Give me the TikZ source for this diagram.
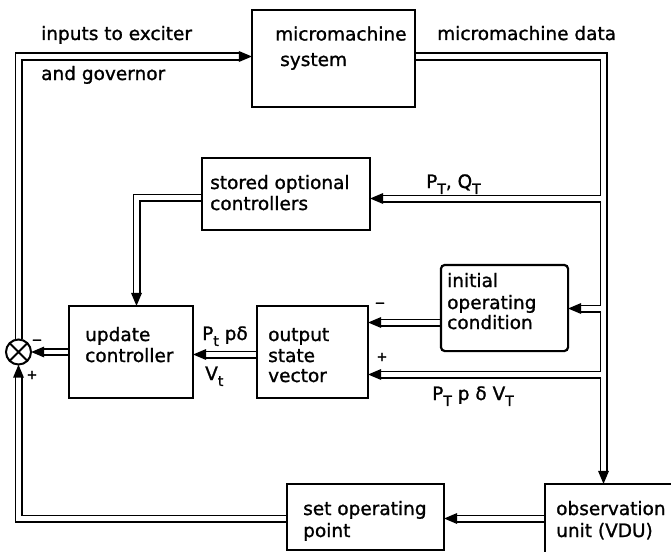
\documentclass[tikz,border=0pt]{standalone}
\usepackage{fontspec}
\setmainfont[FakeBold=1.2]{DejaVu Sans}
\usetikzlibrary{calc}
\newcommand\sbx[1]{\raisebox{-0.32em}{\fontsize{14}{14}\selectfont #1}}
\newcommand\ahR[1]{\fill #1 -- ++(-13,-5.5) -- ++(0,11) -- cycle;}
\newcommand\ahL[1]{\fill #1 -- ++(13,-5.5) -- ++(0,11) -- cycle;}
\newcommand\ahD[1]{\fill #1 -- ++(-5.5,-13) -- ++(11,0) -- cycle;}
\newcommand\ahU[1]{\fill #1 -- ++(-5.5,13) -- ++(11,0) -- cycle;}
\begin{document}
\begin{tikzpicture}[x=1pt,y=-1pt,
  box/.style={draw, line width=2.2pt, inner sep=0pt, rectangle},
  lbl/.style={inner sep=0pt, anchor=base west, font=\fontsize{18.5}{20}\selectfont},
  sign/.style={inner sep=0pt, font=\fontsize{13}{13}\selectfont},
  pipe/.style={draw, line width=1.9pt, double=white, double distance=4.2pt, line join=miter, line cap=butt, shorten >=12pt}]
\useasboundingbox (0,0) rectangle (671,551);

% coordinates of the pipe routes
\coordinate (c1) at (18.5,56.5);
\coordinate (c2) at (603.5,56.5);
\coordinate (b1) at (601.4,198.5);
\coordinate (b2) at (601.4,308.5);
\coordinate (b3) at (601.4,374.5);
\coordinate (c4) at (0,322.5);
\coordinate (c5) at (136.5,197.5);
\coordinate (c6) at (0,354.5);
\coordinate (c8) at (0,518.5);
\coordinate (c9) at (18.5,518.5);

% boxes
\node[box, draw=none, minimum width=161pt, minimum height=95pt] (mm) at (333.5,58.5) {};
\node[box, draw=none, minimum width=166pt, minimum height=70pt] (stored) at (286,194) {};
\node[box, draw=none, minimum width=122pt, minimum height=90pt] (upd) at (131,352) {};
\node[box, draw=none, minimum width=109pt, minimum height=90pt] (osv) at (312.5,352) {};
\node[box, draw=none, minimum width=125pt, minimum height=84pt] (init) at (504.5,308) {};
\node[box, draw=none, minimum width=155pt, minimum height=64pt] (setop) at (365.5,517) {};
\node[box, draw=none, minimum width=154pt, minimum height=75pt] (obs) at (623,522.5) {};
\node[circle, inner sep=0pt, minimum size=25pt] (sj) at (18.5,352) {};

% pipes (main runs first, branches after)
\draw[pipe] (sj.north) -- (c1) -- (mm.west |- c1);
\draw[pipe] (mm.east |- c2) -- (c2) -- (c2 |- obs.north);
\draw[pipe] (b1) -- (stored.east |- b1);
\draw[pipe] (b2) -- (init.east |- b2);
\draw[pipe] (b3) -- (osv.east |- b3);
\draw[pipe] (init.west |- c4) -- (osv.east |- c4);
\draw[pipe] (stored.west |- c5) -- (c5) -- (c5 |- upd.north);
\draw[pipe] (osv.west |- c6) -- (upd.east |- c6);
\draw[pipe] (upd.west |- sj.east) -- (sj.east);
\draw[pipe] (obs.west |- c8) -- (setop.east |- c8);
\draw[pipe] (setop.west |- c9) -- (c9) -- (sj.south);

% boxes drawn over pipe ends
\draw[line width=2.2pt] (mm.north west) rectangle (mm.south east);
\draw[line width=2.2pt] (stored.north west) rectangle (stored.south east);
\draw[line width=2.2pt] (upd.north west) rectangle (upd.south east);
\draw[line width=2.2pt] (osv.north west) rectangle (osv.south east);
\draw[line width=2.2pt, rounded corners=4pt] (init.north west) rectangle (init.south east);
\draw[line width=2.2pt] (setop.north west) rectangle (setop.south east);
\draw[line width=2.2pt] (obs.north west) rectangle (obs.south east);
\draw[line width=2pt, fill=white] (sj) circle (12.5pt);
\draw[line width=2pt] (sj.north west) -- (sj.south east) (sj.north east) -- (sj.south west);

% arrow heads
\ahR{(mm.west |- c1)}
\ahD{(c2 |- obs.north)}
\ahL{(stored.east |- b1)}
\ahL{(init.east |- b2)}
\ahL{(osv.east |- b3)}
\ahL{(osv.east |- c4)}
\ahD{(c5 |- upd.north)}
\ahL{(upd.east |- c6)}
\ahL{(sj.east)}
\ahL{(setop.east |- c8)}
\ahU{(sj.south)}

% texts
\node[lbl] (ie1) at (41,40) {inputs to exciter};
\node[lbl] (ie2) at (41,80) {and governor};
\node[lbl] (mm1) at (275,40.5) {micromachine};
\node[lbl] (mm2) at (280,66) {system};
\node[lbl] (md) at (437,40) {micromachine data};
\node[lbl] (pq) at (426,188) {P\sbx{T}, Q\sbx{T}};
\node[lbl] (st1) at (210,189) {stored optional};
\node[lbl] (st2) at (210,210) {controllers};
\node[lbl] (up1) at (85,341) {update};
\node[lbl] (up2) at (85,362) {controller};
\node[lbl] (os1) at (268,341) {output};
\node[lbl] (os2) at (268,362) {state};
\node[lbl] (os3) at (268,382) {vector};
\node[lbl] (pt) at (202,340) {P\sbx{t} pδ};
\node[lbl] (vt) at (205,380) {V\sbx{t}};
\node[lbl] (in1) at (447,287) {initial};
\node[lbl] (in2) at (447,309) {operating};
\node[lbl] (in3) at (447,329) {condition};
\node[lbl] (pp) at (432,400) {P\sbx{T} p δ V\sbx{T}};
\node[lbl] (so1) at (303,515) {set operating};
\node[lbl] (so2) at (303,537) {point};
\node[lbl] (ob1) at (556,515) {observation};
\node[lbl] (ob2) at (556,537) {unit (VDU)};
\node[sign] (m1) at (380,305) {−};
\node[sign] (p1) at (382,357) {+};
\node[sign] (m2) at (37,342) {−};
\node[sign] (p2) at (32,375) {+};
\end{tikzpicture}
\end{document}
